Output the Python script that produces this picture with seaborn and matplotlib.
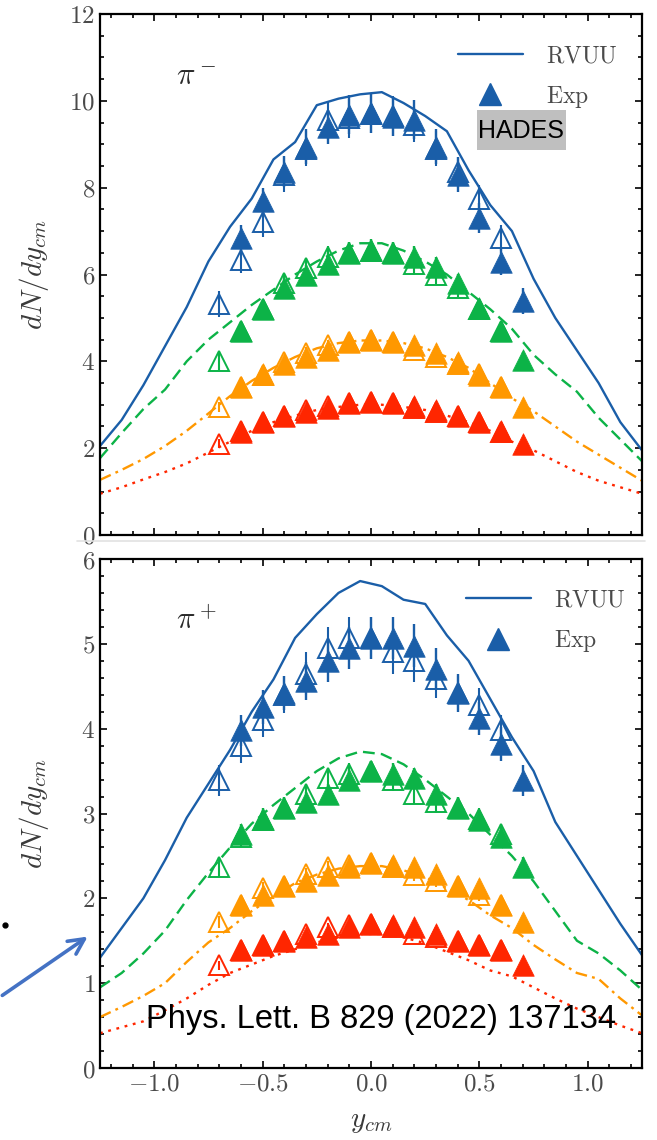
import numpy as np
import matplotlib
matplotlib.use("Agg")
import matplotlib.pyplot as plt
import seaborn as sns
from matplotlib.ticker import MultipleLocator, FuncFormatter
from matplotlib.lines import Line2D
from matplotlib.patches import FancyArrowPatch, Rectangle

# ---------------- data ----------------
x_th = [-1.25, -1.15, -1.05, -0.95, -0.85, -0.75, -0.65, -0.55, -0.45, -0.35, -0.25, -0.15, -0.05,
        0.05, 0.15, 0.25, 0.35, 0.45, 0.55, 0.65, 0.75, 0.85, 0.95, 1.05, 1.15, 1.25]
x_exp = [-0.6, -0.5, -0.4, -0.3, -0.2, -0.1, 0.0, 0.1, 0.2, 0.3, 0.4, 0.5, 0.6, 0.7]
x_ref = [-0.7, -0.6, -0.5, -0.4, -0.3, -0.2, -0.1, 0.0, 0.1, 0.2, 0.3, 0.4, 0.5, 0.6]

# pi- (top panel) RVUU
pim_th_blue = [2.05, 2.65, 3.45, 4.35, 5.25, 6.3, 7.1, 7.75, 8.65, 9.05, 9.9, 10.05, 10.15,
               10.2, 9.95, 9.65, 9.3, 8.4, 7.6, 7.0, 5.9, 5.0, 4.25, 3.5, 2.6, 1.95]
pim_th_green = [1.77, 2.35, 2.9, 3.35, 4.0, 4.5, 4.9, 5.3, 5.65, 6.0, 6.3, 6.55, 6.72,
                6.72, 6.55, 6.3, 6.0, 5.6, 5.2, 4.75, 4.15, 3.7, 3.3, 2.7, 2.2, 1.7]
pim_th_orange = [1.27, 1.5, 1.75, 2.05, 2.4, 2.8, 3.2, 3.55, 3.85, 4.1, 4.3, 4.42, 4.48,
                 4.48, 4.42, 4.3, 4.1, 3.85, 3.5, 3.15, 2.85, 2.5, 2.15, 1.85, 1.55, 1.25]
pim_th_red = [0.95, 1.1, 1.28, 1.45, 1.65, 1.9, 2.15, 2.4, 2.6, 2.75, 2.88, 2.95, 3.0,
              3.0, 2.95, 2.88, 2.75, 2.6, 2.4, 2.15, 1.95, 1.7, 1.45, 1.25, 1.1, 0.95]
# pi- HADES data (filled) and reflected (open)
pim_exp_blue = [6.85, 7.7, 8.37, 8.94, 9.4, 9.68, 9.72, 9.63, 9.56, 8.94, 8.3, 7.3, 6.28, 5.38]
pim_ref_blue = [5.33, 6.33, 7.22, 8.3, 8.9, 9.55, 9.6, 9.7, 9.65, 9.45, 8.9, 8.35, 7.75, 6.85]
pim_err_blue = [0.3, 0.3, 0.35, 0.4, 0.4, 0.45, 0.45, 0.45, 0.45, 0.4, 0.4, 0.35, 0.3, 0.3]
pim_exp_green = [4.71, 5.2, 5.7, 6.0, 6.25, 6.5, 6.57, 6.5, 6.4, 6.18, 5.8, 5.22, 4.71, 4.02]
pim_ref_green = [4.0, 4.7, 5.2, 5.8, 6.15, 6.4, 6.5, 6.55, 6.5, 6.25, 6.0, 5.7, 5.2, 4.7]
pim_err_green = [0.2, 0.2, 0.22, 0.22, 0.25, 0.25, 0.25, 0.25, 0.25, 0.22, 0.22, 0.2, 0.2, 0.2]
pim_exp_orange = [3.42, 3.7, 3.93, 4.1, 4.26, 4.45, 4.48, 4.45, 4.38, 4.2, 3.98, 3.68, 3.4, 2.95]
pim_ref_orange = [2.95, 3.4, 3.68, 3.98, 4.2, 4.38, 4.45, 4.48, 4.45, 4.26, 4.1, 3.93, 3.7, 3.42]
pim_err_orange = [0.12] * 14
pim_exp_red = [2.37, 2.6, 2.73, 2.83, 2.93, 3.05, 3.07, 3.05, 2.97, 2.88, 2.75, 2.6, 2.4, 2.1]
pim_ref_red = [2.1, 2.4, 2.6, 2.75, 2.88, 2.97, 3.05, 3.07, 3.05, 2.93, 2.83, 2.73, 2.6, 2.37]
pim_err_red = [0.1] * 14

# pi+ (bottom panel) RVUU
pip_th_blue = [1.3, 1.65, 2.0, 2.45, 2.95, 3.35, 3.75, 4.2, 4.58, 5.07, 5.35, 5.6, 5.74,
               5.68, 5.52, 5.47, 5.1, 4.8, 4.35, 3.9, 3.5, 2.9, 2.5, 2.1, 1.7, 1.33]
pip_th_green = [0.95, 1.12, 1.35, 1.62, 1.98, 2.3, 2.6, 2.88, 3.1, 3.3, 3.5, 3.65, 3.73,
                3.7, 3.58, 3.4, 3.2, 3.0, 2.75, 2.5, 2.2, 1.85, 1.5, 1.35, 1.15, 0.92]
pip_th_orange = [0.6, 0.72, 0.85, 1.0, 1.25, 1.48, 1.65, 1.85, 2.02, 2.18, 2.28, 2.35, 2.38,
                 2.38, 2.33, 2.25, 2.12, 1.98, 1.8, 1.65, 1.45, 1.28, 1.12, 1.05, 0.82, 0.62]
pip_th_red = [0.41, 0.48, 0.55, 0.68, 0.82, 0.98, 1.12, 1.22, 1.32, 1.4, 1.48, 1.54, 1.58,
              1.58, 1.54, 1.47, 1.37, 1.27, 1.15, 1.08, 0.95, 0.82, 0.7, 0.6, 0.5, 0.41]
pip_exp_blue = [3.98, 4.25, 4.42, 4.56, 4.8, 4.95, 5.07, 5.07, 4.98, 4.7, 4.42, 4.12, 3.82, 3.39]
pip_ref_blue = [3.39, 3.8, 4.1, 4.4, 4.65, 4.95, 5.07, 5.07, 4.9, 4.8, 4.58, 4.42, 4.28, 3.98]
pip_err_blue = [0.18, 0.2, 0.2, 0.22, 0.25, 0.25, 0.25, 0.25, 0.25, 0.25, 0.22, 0.2, 0.2, 0.18]
pip_exp_green = [2.76, 2.94, 3.07, 3.13, 3.23, 3.39, 3.5, 3.47, 3.42, 3.23, 3.07, 2.92, 2.72, 2.37]
pip_ref_green = [2.37, 2.72, 2.92, 3.07, 3.23, 3.42, 3.47, 3.5, 3.39, 3.23, 3.13, 3.07, 2.94, 2.76]
pip_err_green = [0.12] * 14
pip_exp_orange = [1.92, 2.04, 2.15, 2.2, 2.28, 2.37, 2.42, 2.39, 2.37, 2.29, 2.15, 2.12, 1.92, 1.72]
pip_ref_orange = [1.72, 1.92, 2.12, 2.15, 2.29, 2.37, 2.39, 2.42, 2.37, 2.28, 2.2, 2.15, 2.04, 1.92]
pip_err_orange = [0.07] * 14
pip_exp_red = [1.39, 1.45, 1.5, 1.55, 1.58, 1.66, 1.7, 1.68, 1.66, 1.58, 1.5, 1.45, 1.39, 1.21]
pip_ref_red = [1.21, 1.39, 1.45, 1.5, 1.58, 1.66, 1.68, 1.7, 1.66, 1.58, 1.55, 1.5, 1.45, 1.39]
pip_err_red = [0.05] * 14

colors = ["#1a5ea8", "#0cb347", "#ff9800", "#ff2600"]
styles = ["-", (0, (5, 2.6)), (0, (5, 2.2, 1.2, 2.2)), (0, (1.2, 2.4))]
tick_x = [-1.0, -0.5, 0.0, 0.5, 1.0]

# ---------------- style ----------------
sns.set_style("ticks")
plt.rcParams["font.family"] = ["DejaVu Serif"]
plt.rcParams["mathtext.fontset"] = "cm"

W, H = 657, 1140
fig = plt.figure(figsize=(W / 100, H / 100), dpi=100)


def px_axes(l, t, r, b):
    return fig.add_axes([l / W, 1 - b / H, (r - l) / W, (b - t) / H])


ax_top = px_axes(100, 14, 642, 535)
ax_bot = px_axes(100, 559, 642, 1068)

MS = 15.5


def draw_panel(ax, th, exp, ref, err):
    for c, ls, t, e, r, er in zip(colors, styles, th, exp, ref, err):
        sns.lineplot(x=x_th, y=t, ax=ax, color=c, linestyle=ls, lw=1.7,
                     estimator=None, sort=False, legend=False, zorder=2)
        ax.errorbar(x_ref, r, yerr=er[::-1], fmt="^", ms=MS - 1.5, mfc="none", mec=c,
                    mew=1.4, ecolor=c, elinewidth=1.5, capsize=0, zorder=3)
        ax.errorbar(x_exp, e, yerr=er, fmt="none", ecolor=c, elinewidth=1.7,
                    capsize=0, zorder=4)
        sns.scatterplot(x=x_exp, y=e, ax=ax, marker="^", s=MS ** 2, color=c,
                        edgecolor=c, linewidth=0.5, legend=False, zorder=4)


draw_panel(ax_top, [pim_th_blue, pim_th_green, pim_th_orange, pim_th_red],
           [pim_exp_blue, pim_exp_green, pim_exp_orange, pim_exp_red],
           [pim_ref_blue, pim_ref_green, pim_ref_orange, pim_ref_red],
           [pim_err_blue, pim_err_green, pim_err_orange, pim_err_red])
draw_panel(ax_bot, [pip_th_blue, pip_th_green, pip_th_orange, pip_th_red],
           [pip_exp_blue, pip_exp_green, pip_exp_orange, pip_exp_red],
           [pip_ref_blue, pip_ref_green, pip_ref_orange, pip_ref_red],
           [pip_err_blue, pip_err_green, pip_err_orange, pip_err_red])

ax_top.set_ylim(0, 12)
ax_bot.set_ylim(0, 6)
for ax, ymaj, ymin, lx in [(ax_top, 2, 0.5, 446), (ax_bot, 1, 0.2, 454)]:
    ax.set_xlim(-1.25, 1.25)
    ax.xaxis.set_major_locator(MultipleLocator(0.5))
    ax.xaxis.set_minor_locator(MultipleLocator(0.1))
    ax.yaxis.set_major_locator(MultipleLocator(ymaj))
    ax.yaxis.set_minor_locator(MultipleLocator(ymin))
    ax.tick_params(which="both", direction="in", top=True, right=True, colors="black",
                   labelcolor="#4a4a4a", labelsize=18, width=1.2)
    ax.tick_params(which="major", length=5)
    ax.tick_params(which="minor", length=3)
    for sp in ax.spines.values():
        sp.set_linewidth(1.6)
        sp.set_color("black")
    ax.yaxis.set_major_formatter(FuncFormatter(lambda v, p: f"${v:.0f}$"))
    ax.xaxis.set_major_formatter(FuncFormatter(lambda v, p: f"${v:.1f}$"))
    ax.set_ylabel(r"$dN/dy_{cm}$", fontsize=21, color="#3a3a3a")
    ax.yaxis.set_label_coords(-0.09, 0.5)
    ax.set_xlabel("")
    handles = [Line2D([], [], color=colors[0], lw=1.7),
               Line2D([], [], color=colors[0], marker="^", ms=MS, ls="none")]
    leg = ax.legend(handles, [r"$\mathrm{RVUU}$", r"$\mathrm{Exp}$"], loc="upper left",
                    bbox_to_anchor=((lx - 100) / 542, 0.965), frameon=False,
                    fontsize=17, borderpad=0, handlelength=2.75, handletextpad=1.0,
                    labelspacing=0.7)
    for t in leg.get_texts():
        t.set_color("#4a4a4a")

ax_top.tick_params(labelbottom=False)
ax_bot.set_xticks(tick_x)
ax_bot.set_xlabel(r"$y_{cm}$", fontsize=21, color="#3a3a3a", labelpad=8)

ax_top.text(0.178, 0.88, r"$\pi^-$", transform=ax_top.transAxes, fontsize=22,
            ha="center", va="center", color="#2a2a2a")
ax_bot.text(0.178, 0.88, r"$\pi^+$", transform=ax_bot.transAxes, fontsize=22,
            ha="center", va="center", color="#2a2a2a")

# HADES label
fig.add_artist(Rectangle((477 / W, 1 - 150 / H), 89 / W, 40 / H, transform=fig.transFigure,
                         facecolor="#bfbfbf", edgecolor="none", zorder=10))
fig.text(521.5 / W, 1 - 131 / H, "HADES", fontsize=18, family=["Liberation Sans"],
         ha="center", va="center", color="black", zorder=11)

# faint separator line between the two panels
fig.add_artist(Line2D([77 / W, 645 / W], [1 - 541 / H, 1 - 541 / H], transform=fig.transFigure,
                      color="#e2e2e2", lw=1.2))

# reference text
fig.text(381 / W, 1 - 1028 / H, "Phys. Lett. B 829 (2022) 137134", fontsize=23.5,
         family=["Liberation Sans"], ha="center", va="baseline", color="black", zorder=11)

# arrow and dot
fig.add_artist(FancyArrowPatch((0 / W, 1 - 997 / H), (90 / W, 1 - 935 / H),
                               transform=fig.transFigure, arrowstyle="->",
                               mutation_scale=28, lw=2.6, color="#4472c4"))
fig.add_artist(Line2D([5 / W], [1 - 925 / H], transform=fig.transFigure, marker="o",
                      ms=3.5, color="black", ls="none"))

fig.savefig("out.png", dpi=100)
